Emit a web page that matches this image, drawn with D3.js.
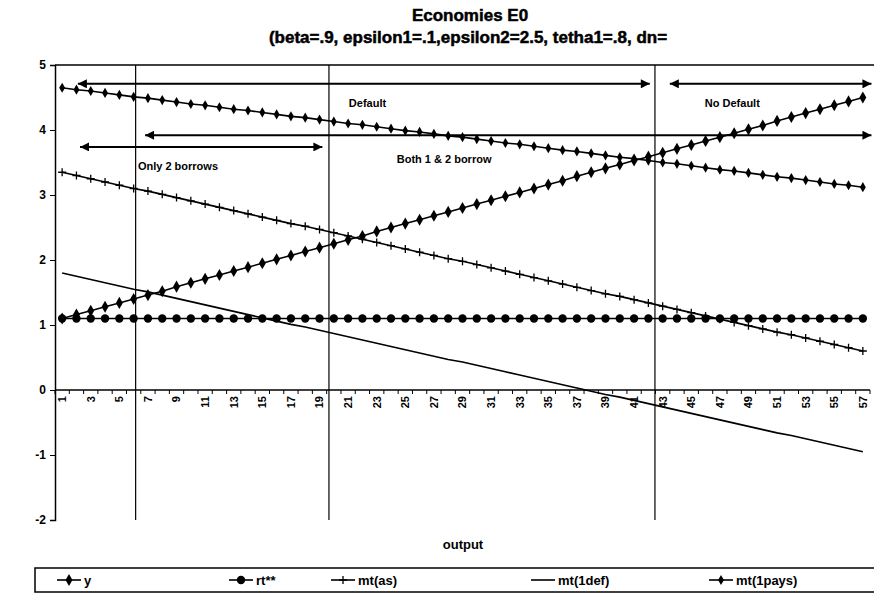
<!DOCTYPE html>
<html>
<head>
<meta charset="utf-8">
<script src="https://cdn.jsdelivr.net/npm/d3@7"></script>
<style>
  body { margin: 0; background: #fff; }
  text { font-family: "Liberation Sans", Arial, sans-serif; font-weight: bold; fill: #000; }
</style>
</head>
<body>
<div id="chart"></div>
<script>
// categories 1..57
const categories = d3.range(1, 58);

const ySeries = [1.10, 1.16, 1.22, 1.28, 1.34, 1.40, 1.46, 1.52, 1.59, 1.65, 1.71, 1.77, 1.83, 1.89, 1.95, 2.01, 2.07, 2.13, 2.19, 2.25,
  2.31, 2.37, 2.44, 2.50, 2.56, 2.62, 2.68, 2.74, 2.80, 2.86, 2.92, 2.98, 3.04, 3.10, 3.16, 3.22, 3.29, 3.35, 3.41, 3.47,
  3.53, 3.59, 3.65, 3.71, 3.77, 3.83, 3.89, 3.95, 4.01, 4.07, 4.14, 4.20, 4.26, 4.32, 4.38, 4.44, 4.50];

const rtSeries = [1.10, 1.10, 1.10, 1.10, 1.10, 1.10, 1.10, 1.10, 1.10, 1.10, 1.10, 1.10, 1.10, 1.10, 1.10, 1.10, 1.10, 1.10, 1.10, 1.10,
  1.10, 1.10, 1.10, 1.10, 1.10, 1.10, 1.10, 1.10, 1.10, 1.10, 1.10, 1.10, 1.10, 1.10, 1.10, 1.10, 1.10, 1.10, 1.10, 1.10,
  1.10, 1.10, 1.10, 1.10, 1.10, 1.10, 1.10, 1.10, 1.10, 1.10, 1.10, 1.10, 1.10, 1.10, 1.10, 1.10, 1.10];

const mtAs = [3.35, 3.30, 3.25, 3.20, 3.15, 3.10, 3.06, 3.01, 2.96, 2.91, 2.86, 2.81, 2.76, 2.71, 2.66, 2.61, 2.56, 2.52, 2.47, 2.42,
  2.37, 2.32, 2.27, 2.22, 2.17, 2.12, 2.07, 2.02, 1.98, 1.93, 1.88, 1.83, 1.78, 1.73, 1.68, 1.63, 1.58, 1.53, 1.48, 1.44,
  1.39, 1.34, 1.29, 1.24, 1.19, 1.14, 1.09, 1.04, 0.99, 0.94, 0.89, 0.85, 0.80, 0.75, 0.70, 0.65, 0.60];

const mt1def = [1.80, 1.75, 1.70, 1.65, 1.60, 1.55, 1.51, 1.46, 1.41, 1.36, 1.31, 1.26, 1.21, 1.16, 1.11, 1.06, 1.01, 0.97, 0.92, 0.87,
  0.82, 0.77, 0.72, 0.67, 0.62, 0.57, 0.52, 0.47, 0.43, 0.38, 0.33, 0.28, 0.23, 0.18, 0.13, 0.08, 0.03, -0.02, -0.07, -0.11,
  -0.16, -0.21, -0.26, -0.31, -0.36, -0.41, -0.46, -0.51, -0.56, -0.61, -0.66, -0.70, -0.75, -0.80, -0.85, -0.90, -0.95];

const mt1pays = [4.65, 4.62, 4.60, 4.57, 4.54, 4.51, 4.49, 4.46, 4.43, 4.40, 4.38, 4.35, 4.32, 4.30, 4.27, 4.24, 4.21, 4.19, 4.16, 4.13,
  4.10, 4.08, 4.05, 4.02, 3.99, 3.97, 3.94, 3.91, 3.89, 3.86, 3.83, 3.80, 3.78, 3.75, 3.72, 3.69, 3.67, 3.64, 3.61, 3.58,
  3.56, 3.53, 3.50, 3.48, 3.45, 3.42, 3.39, 3.37, 3.34, 3.31, 3.28, 3.26, 3.23, 3.20, 3.17, 3.15, 3.12];

const yTicks = [-2, -1, 0, 1, 2, 3, 4, 5];
const xTickLabels = categories.filter(c => c % 2 === 1);

// regime boundaries (in category units) and arrows
const boundaries = [5.64, 19.16, 41.96];
const arrows = [
  { x0: 1.6, x1: 41.6, y: 4.71, label: "Default", lx: 20.55, ly: 4.42 },
  { x0: 43.0, x1: 57.1, y: 4.71, label: "No Default", lx: 45.45, ly: 4.42 },
  { x0: 6.3, x1: 57.1, y: 3.92, label: "Both 1 & 2 borrow", lx: 23.9, ly: 3.55 },
  { x0: 1.75, x1: 18.7, y: 3.74, label: "Only 2 borrows", lx: 5.8, ly: 3.45 }
];

const W = 874, H = 603;
const mLeft = 55, mRight = 870, mTop = 65, mBottom = 520;

const svg = d3.select("#chart").append("svg")
  .attr("width", W).attr("height", H);

const x = d3.scaleBand().domain(categories).range([mLeft, mRight]).padding(0);
const xu = d3.scaleLinear().domain([0, categories.length]).range([mLeft, mRight]);
const y = d3.scaleLinear().domain([-2, 5]).range([mBottom, mTop]);
const cx = d => x(d) + x.bandwidth() / 2;

// title
svg.append("text").attr("x", 470).attr("y", 21).attr("text-anchor", "middle")
  .style("font-size", "17px").attr("stroke", "#000").attr("stroke-width", 0.5)
  .text("Economies E0");
svg.append("text").attr("x", 468).attr("y", 43).attr("text-anchor", "middle")
  .style("font-size", "17px").attr("stroke", "#000").attr("stroke-width", 0.5)
  .text("(beta=.9, epsilon1=.1,epsilon2=2.5, tetha1=.8, dn=");

// plot frame top
svg.append("line").attr("x1", mLeft).attr("x2", W).attr("y1", y(5)).attr("y2", y(5))
  .attr("stroke", "#000").attr("stroke-width", 1.5);

// boundaries
svg.selectAll(".bound").data(boundaries).enter().append("line")
  .attr("x1", d => xu(d)).attr("x2", d => xu(d))
  .attr("y1", y(5)).attr("y2", y(-2))
  .attr("stroke", "#000").attr("stroke-width", 1.2);

// y axis
const yAxis = svg.append("g").attr("transform", `translate(${mLeft},0)`)
  .call(d3.axisLeft(y).tickValues(yTicks).tickSize(5).tickFormat(d => String(d)));
yAxis.select(".domain").attr("stroke-width", 1.5);
yAxis.selectAll("text").style("font-size", "12px").style("font-family", "Liberation Sans, Arial, sans-serif")
  .style("font-weight", "bold").attr("x", -9);

// x axis at zero
const xAxisG = svg.append("g").attr("transform", `translate(0,${y(0)})`);
xAxisG.append("line").attr("x1", mLeft).attr("x2", mRight).attr("stroke", "#000").attr("stroke-width", 1.5);
xAxisG.selectAll(".xt").data(d3.range(0, categories.length + 1)).enter().append("line")
  .attr("x1", d => xu(d)).attr("x2", d => xu(d)).attr("y1", 0).attr("y2", 4)
  .attr("stroke", "#000");
xAxisG.selectAll(".xl").data(xTickLabels).enter().append("text")
  .attr("transform", d => `translate(${cx(d)},6) rotate(-90)`)
  .attr("text-anchor", "end").attr("dy", "0.35em")
  .style("font-size", "11px").text(d => d);

// y axis title (clipped as in the source)
svg.append("clipPath").attr("id", "ytclip").append("rect")
  .attr("x", 0).attr("y", 219).attr("width", 40).attr("height", 120);
svg.append("text").attr("clip-path", "url(#ytclip)")
  .attr("transform", "translate(27,322) rotate(-90)")
  .attr("text-anchor", "start").style("font-size", "13px").text("interest rate");

// x axis title
svg.append("text").attr("x", 463).attr("y", 549).attr("text-anchor", "middle")
  .style("font-size", "13px").text("output");

// arrows
const defs = svg.append("defs");
defs.append("marker").attr("id", "ah").attr("viewBox", "0 0 10 10")
  .attr("refX", 10).attr("refY", 5).attr("markerWidth", 13).attr("markerHeight", 9)
  .attr("markerUnits", "userSpaceOnUse").attr("orient", "auto-start-reverse")
  .append("path").attr("d", "M0,0L10,5L0,10Z").attr("fill", "#000");

svg.selectAll(".arrow").data(arrows).enter().append("line")
  .attr("x1", d => xu(d.x0)).attr("x2", d => xu(d.x1))
  .attr("y1", d => y(d.y)).attr("y2", d => y(d.y))
  .attr("stroke", "#000").attr("stroke-width", 2)
  .attr("marker-start", "url(#ah)").attr("marker-end", "url(#ah)");
svg.selectAll(".alabel").data(arrows).enter().append("text")
  .attr("x", d => xu(d.lx)).attr("y", d => y(d.ly)).attr("dy", "0.35em")
  .style("font-size", "11px").text(d => d.label);

// series
const line = d3.line().x((d, i) => cx(categories[i])).y(d => y(d));
const diamond = s => d3.symbol(d3.symbolDiamond, s)();
const plus = "M-4,0H4M0,-4V4";

const series = [
  { name: "y", values: ySeries, marker: "diamond", size: 42 },
  { name: "rt**", values: rtSeries, marker: "circle", size: 4.2 },
  { name: "mt(as)", values: mtAs, marker: "plus" },
  { name: "mt(1def)", values: mt1def, marker: "none" },
  { name: "mt(1pays)", values: mt1pays, marker: "diamond", size: 30 }
];

function drawMarker(g, s) {
  if (s.marker === "diamond") {
    g.append("path").attr("d", diamond(s.size)).attr("fill", "#000");
  } else if (s.marker === "circle") {
    g.append("circle").attr("r", s.size).attr("fill", "#000");
  } else if (s.marker === "plus") {
    g.append("path").attr("d", plus).attr("stroke", "#000").attr("stroke-width", 1.3).attr("fill", "none");
  }
}

series.forEach(s => {
  svg.append("path").datum(s.values).attr("d", line)
    .attr("fill", "none").attr("stroke", "#000").attr("stroke-width", 1.6);
  s.values.forEach((v, i) => {
    const g = svg.append("g").attr("transform", `translate(${cx(categories[i])},${y(v)})`);
    drawMarker(g, s);
  });
});

// legend
const lg = svg.append("g");
lg.append("rect").attr("x", 35).attr("y", 568).attr("width", 850).attr("height", 24)
  .attr("fill", "none").attr("stroke", "#000").attr("stroke-width", 1.5);
const legendX = [57, 229, 331, 531, 709];
series.forEach((s, i) => {
  const g = lg.append("g").attr("transform", `translate(${legendX[i]},580)`);
  g.append("line").attr("x1", 0).attr("x2", 24).attr("stroke", "#000").attr("stroke-width", 1.6);
  const m = g.append("g").attr("transform", "translate(12,0)");
  drawMarker(m, s);
  g.append("text").attr("x", 27).attr("dy", "0.35em").style("font-size", "13px").text(s.name);
});
</script>
</body>
</html>
